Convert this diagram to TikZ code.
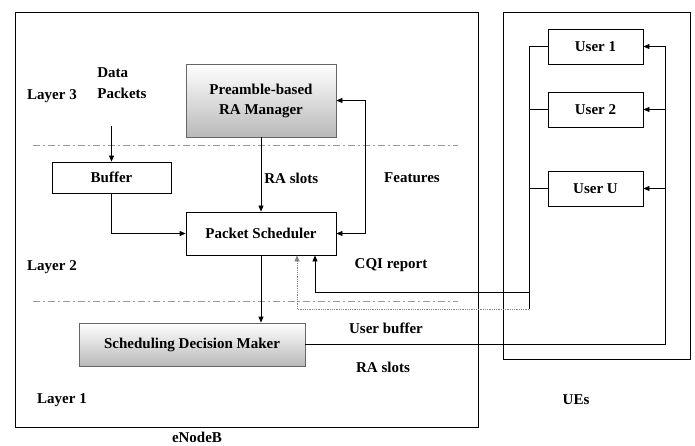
\documentclass[tikz,border=0pt]{standalone}
\usepackage{fontspec}
\setmainfont{Liberation Serif}
\usetikzlibrary{arrows.meta,calc}
\begin{document}
\begin{tikzpicture}[x=1pt,y=-1pt,
  font=\fontsize{15}{18}\selectfont\bfseries,
  line width=0.8pt,
  arr/.style={-{Triangle[length=6pt,width=5pt]}},
  frame/.style={draw,rectangle,inner sep=0pt},
  box/.style={draw,rectangle,inner sep=0pt,fill=white,align=center},
  shadebox/.style={draw=gray!80!black,rectangle,inner sep=0pt,top color=white,bottom color=gray!55,align=center},
  layerline/.style={gray!80,line width=1pt,dash pattern=on 7pt off 3pt on 2pt off 3pt},
  lbl/.style={inner sep=0pt,align=left}]
\useasboundingbox (0,0) rectangle (695,446);

% outer frames
\node[frame,minimum width=463pt,minimum height=415pt] (enb) at (246.5,219.5) {};
\node[frame,minimum width=187pt,minimum height=347pt] (ues) at (596.5,185.5) {};
\node[lbl] (enblabel) at (197,437) {eNodeB};
\node[lbl] (ueslabel) at (576,400) {UEs};

% layer separators
\coordinate (s1a) at (33,146); \coordinate (s1b) at (458,146);
\coordinate (s2a) at (33,301); \coordinate (s2b) at (458,301);
\draw[layerline] (s1a) -- (s1b);
\draw[layerline] (s2a) -- (s2b);

% eNodeB blocks
\node[shadebox,minimum width=150pt,minimum height=73pt] (ram) at (261,100.5) {Preamble-based\\[2pt]RA Manager};
\node[box,minimum width=150pt,minimum height=43pt] (ps) at (261,233.5) {Packet Scheduler};
\node[box,minimum width=119pt,minimum height=31pt] (buf) at (111.5,177.5) {Buffer};
\node[shadebox,minimum width=226pt,minimum height=43pt] (sdm) at (192,344.5) {Scheduling Decision Maker};

% UE blocks
\node[box,minimum width=95pt,minimum height=35pt] (u1) at (595.5,46.5) {User 1};
\node[box,minimum width=95pt,minimum height=35pt] (u2) at (595.5,109.5) {User 2};
\node[box,minimum width=95pt,minimum height=35pt] (uU) at (595.5,188.5) {User U};

% text labels
\node[lbl] (l3) at (52,96) {Layer 3};
\node[lbl] (l2) at (52,267) {Layer 2};
\node[lbl] (l1) at (62,400) {Layer 1};
\node[lbl,anchor=west] (dp) at (97,83) {Data\\[3pt]Packets};
\node[lbl,anchor=west] (raslots1) at (264,178) {RA slots};
\node[lbl] (feat) at (412,178) {Features};
\node[lbl] (cqilbl) at (391,265) {CQI report};
\node[lbl] (ublbl) at (386,328) {User buffer};
\node[lbl] (raslots2) at (383,367) {RA slots};

% data path
\coordinate (dpin) at (111.5,126);
\draw[arr] (dpin) -- (buf.north);
\draw[arr] (buf.south) |- (ps.west);
\draw[arr] (ram.south) -- (ps.north);
\draw[arr] (ps.south) -- (ps.south |- sdm.north);
\draw[{Triangle[length=6pt,width=5pt]}-{Triangle[length=6pt,width=5pt]}] (ram.east) -- ++(29,0) |- (ps.east);

% feedback from the UEs
\coordinate (lt) at (529,46.5);
\coordinate (lbot) at (529,309);
\coordinate (cqi) at (529,292);
\draw (u1.west) -- (lt) -- (lbot);
\draw (u2.west) -- (u2.west -| lt);
\draw (uU.west) -- (uU.west -| lt);
\draw[arr] (cqi) -| ([xshift=54pt]ps.south);
\draw[arr,gray,densely dotted] (lbot) -| ([xshift=36pt]ps.south);

% decisions to the UEs
\coordinate (rt) at (665,46.5);
\coordinate (rb) at (665,344.5);
\draw (sdm.east) -- (rb) -- (rt);
\draw[arr] (rt) -- (u1.east);
\draw[arr] (u2.east -| rt) -- (u2.east);
\draw[arr] (uU.east -| rt) -- (uU.east);
\end{tikzpicture}
\end{document}
